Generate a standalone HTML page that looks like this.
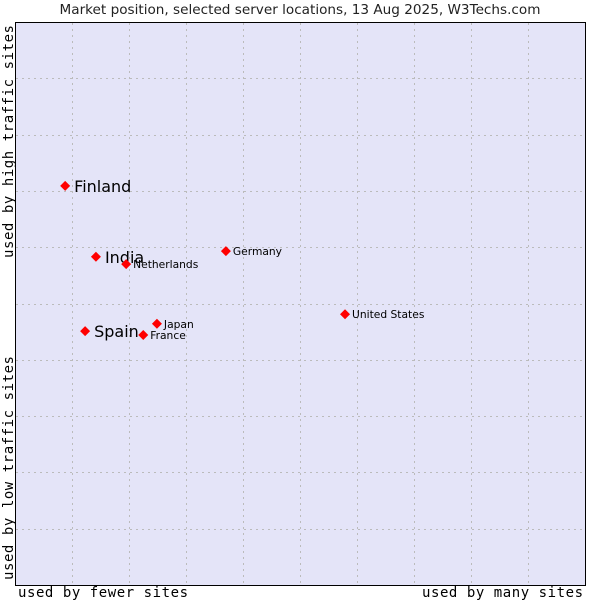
<!DOCTYPE html>
<html><head><meta charset="utf-8"><style>
body{margin:0;background:#fff;width:600px;height:600px;overflow:hidden}
svg text{font-family:"DejaVu Sans","Liberation Sans",sans-serif}
.mono{font-family:"DejaVu Sans Mono","Liberation Mono",monospace}
</style></head><body>
<svg id="c" width="600" height="600">
<text x="300" y="14" text-anchor="middle" font-size="13.6" fill="#222">Market position, selected server locations, 13 Aug 2025, W3Techs.com</text>
<rect x="15.5" y="22.5" width="570" height="563" fill="#e4e4f8" stroke="#000"/>
<g id="grid"></g>
<g id="pts"></g>
<text class="mono" x="18" y="597" font-size="14" textLength="170" fill="#000">used by fewer sites</text>
<text class="mono" x="583" y="597" text-anchor="end" font-size="14" textLength="161" fill="#000">used by many sites</text>
<text class="mono" transform="translate(13,258) rotate(-90)" font-size="14" textLength="233" fill="#000">used by high traffic sites</text>
<text class="mono" transform="translate(13,580) rotate(-90)" font-size="14" textLength="224" fill="#000">used by low traffic sites</text>
</svg>
<script>
const countries=["Finland","India","Netherlands","Germany","United States","Japan","France","Spain"];
const xValues=[8.8,14.2,19.5,37.0,57.9,24.9,22.5,12.3];
const yValues=[70.9,58.3,57.0,59.3,48.1,46.4,44.4,45.1];
const bigLabel=[true,true,false,false,false,false,false,true];
const X=v=>15+v*5.7, Y=v=>585-v*5.63;
const ns="http://www.w3.org/2000/svg";
const g=document.getElementById('grid');
for(let i=1;i<10;i++){
 let l=document.createElementNS(ns,'line');
 
 
 const x=Math.round(X(i*10))+0.5;
 l.setAttribute('x1',x);l.setAttribute('x2',x);l.setAttribute('y1',23);l.setAttribute('y2',585);
 l.setAttribute('stroke','#bbb');l.setAttribute('stroke-dasharray','2,4');g.appendChild(l);
 let h=document.createElementNS(ns,'line');
 
 
 const y=Math.round(Y(i*10))+0.5;
 h.setAttribute('x1',16);h.setAttribute('x2',585);h.setAttribute('y1',y);h.setAttribute('y2',y);
 h.setAttribute('stroke','#bbb');h.setAttribute('stroke-dasharray','2,4');g.appendChild(h);
}
const p=document.getElementById('pts');
countries.forEach((c,i)=>{
 const x=X(xValues[i]),y=Y(yValues[i]);
 let d=document.createElementNS(ns,'path');
 
 
 d.setAttribute('d',`M${x-5} ${y}L${x} ${y-5}L${x+5} ${y}L${x} ${y+5}Z`);
 d.setAttribute('fill','#f00');p.appendChild(d);
 let t=document.createElementNS(ns,'text');
 
 
 t.setAttribute('x',x+(bigLabel[i]?9:7));
 t.setAttribute('y',y+(bigLabel[i]?6:4));
 t.setAttribute('font-size',bigLabel[i]?16:10.7);
 t.setAttribute('fill','#000');
 t.textContent=c;p.appendChild(t);
});
</script>
</body></html>
